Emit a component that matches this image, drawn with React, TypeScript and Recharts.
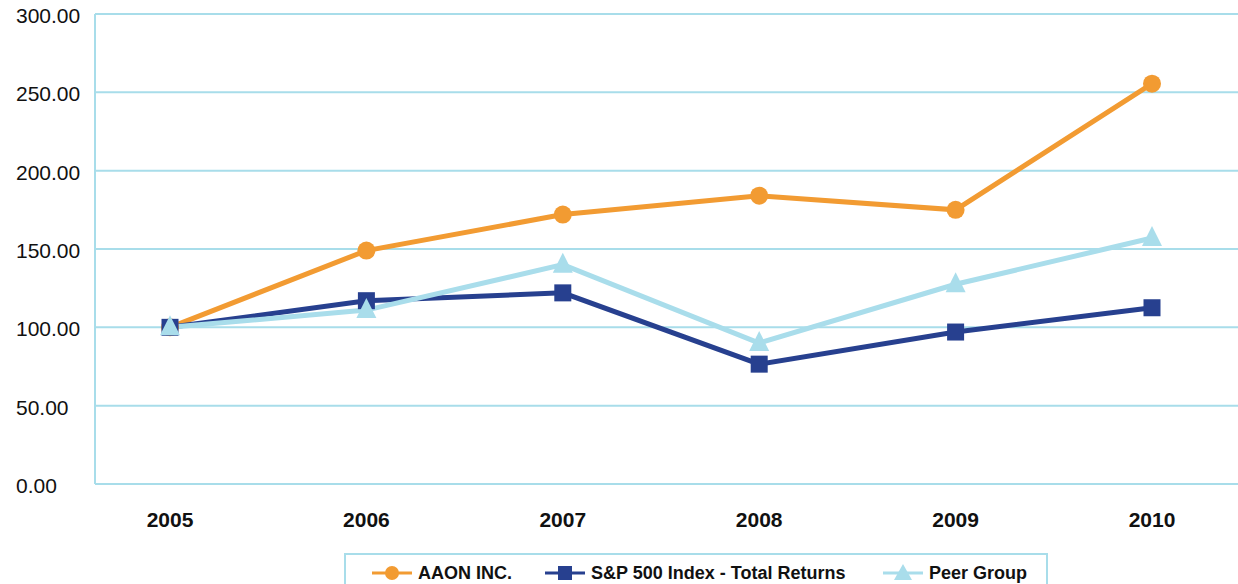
import React from 'react';
import { LineChart, Line, XAxis, YAxis, CartesianGrid } from 'recharts';

const years = ['2005', '2006', '2007', '2008', '2009', '2010'];
const aaon = [100, 149, 172, 184, 175, 255.5];
const sp500 = [100, 117, 122, 76.5, 97, 112.5];
const peer = [100, 111, 140, 90, 127.5, 157];
const yTicks = [0, 50, 100, 150, 200, 250, 300];
const seriesNames = ['AAON INC.', 'S&P 500 Index - Total Returns', 'Peer Group'];

const ORANGE = '#F29B32';
const NAVY = '#27408F';
const LIGHT = '#A9DDEB';
const GRID = '#A8DDEA';

const data = years.map((y, i) => ({ year: y, aaon: aaon[i], sp: sp500[i], peer: peer[i] }));

const YTick = (props: any) => {
  const { y, payload } = props;
  return (
    <text x={16} y={y} dy={9} textAnchor="start" fontSize={21} fill="#111" fontFamily="'Liberation Sans', Arial, sans-serif">
      {Number(payload.value).toFixed(2)}
    </text>
  );
};

const XTick = (props: any) => {
  const { x, y, payload } = props;
  return (
    <text x={x} y={y} dy={35} textAnchor="middle" fontSize={21} fontWeight="bold" fill="#111" fontFamily="'Liberation Sans', Arial, sans-serif">
      {payload.value}
    </text>
  );
};

const SquareDot = (props: any) => {
  const { cx, cy } = props;
  if (cx == null || cy == null) return null;
  return <rect x={cx - 8.5} y={cy - 8.5} width={17} height={17} fill={NAVY} />;
};

const TriDot = (props: any) => {
  const { cx, cy } = props;
  if (cx == null || cy == null) return null;
  return <polygon points={`${cx},${cy - 12} ${cx + 10},${cy + 8} ${cx - 10},${cy + 8}`} fill={LIGHT} />;
};

const CircleDot = (props: any) => {
  const { cx, cy } = props;
  if (cx == null || cy == null) return null;
  return <circle cx={cx} cy={cy} r={9} fill={ORANGE} />;
};

const legendItems = [
  { name: seriesNames[0], color: ORANGE, shape: 'circle', left: 26 },
  { name: seriesNames[1], color: NAVY, shape: 'square', left: 199 },
  { name: seriesNames[2], color: LIGHT, shape: 'triangle', left: 537 },
];

const LegendMarker = ({ color, shape }: { color: string; shape: string }) => (
  <svg width={40} height={20} style={{ display: 'block' }}>
    <line x1={0} y1={10} x2={40} y2={10} stroke={color} strokeWidth={3} />
    {shape === 'circle' && <circle cx={20} cy={10} r={7} fill={color} />}
    {shape === 'square' && <rect x={13} y={3} width={14} height={14} fill={color} />}
    {shape === 'triangle' && <polygon points="20,1 29,17 11,17" fill={color} />}
  </svg>
);

export default function App() {
  return (
    <div style={{ position: 'absolute', left: 0, top: 0, width: 1238, height: 584, background: '#fff', overflow: 'hidden' }}>
      <LineChart width={1238} height={584} data={data} margin={{ top: 14, right: 0, left: 0, bottom: 70 }}>
        <CartesianGrid horizontal vertical={false} stroke={GRID} strokeWidth={2} />
        <XAxis
          dataKey="year"
          height={30}
          padding={{ left: 75, right: 86 }}
          axisLine={{ stroke: GRID, strokeWidth: 2 }}
          tickLine={false}
          tick={<XTick />}
          interval={0}
        />
        <YAxis
          width={95}
          domain={[0, 300]}
          ticks={yTicks}
          axisLine={{ stroke: GRID, strokeWidth: 2 }}
          tickLine={false}
          tick={<YTick />}
          interval={0}
        />
        <Line type="linear" dataKey="aaon" name={seriesNames[0]} stroke={ORANGE} strokeWidth={5} dot={<CircleDot />} activeDot={false} isAnimationActive={false} />
        <Line type="linear" dataKey="sp" name={seriesNames[1]} stroke={NAVY} strokeWidth={5} dot={<SquareDot />} activeDot={false} isAnimationActive={false} />
        <Line type="linear" dataKey="peer" name={seriesNames[2]} stroke={LIGHT} strokeWidth={5} dot={<TriDot />} activeDot={false} isAnimationActive={false} />
      </LineChart>
      <div
        style={{
          position: 'absolute',
          left: 344,
          top: 553,
          width: 704,
          height: 50,
          border: `2px solid ${GRID}`,
          boxSizing: 'border-box',
          fontFamily: "'Liberation Sans', Arial, sans-serif",
          fontWeight: 'bold',
          fontSize: 18,
          color: '#111',
        }}
      >
        {legendItems.map((it) => (
          <div key={it.name} style={{ position: 'absolute', left: it.left, top: 8, display: 'flex', alignItems: 'center', whiteSpace: 'nowrap' }}>
            <LegendMarker color={it.color} shape={it.shape} />
            <span style={{ marginLeft: 6, lineHeight: '20px' }}>{it.name}</span>
          </div>
        ))}
      </div>
    </div>
  );
}
